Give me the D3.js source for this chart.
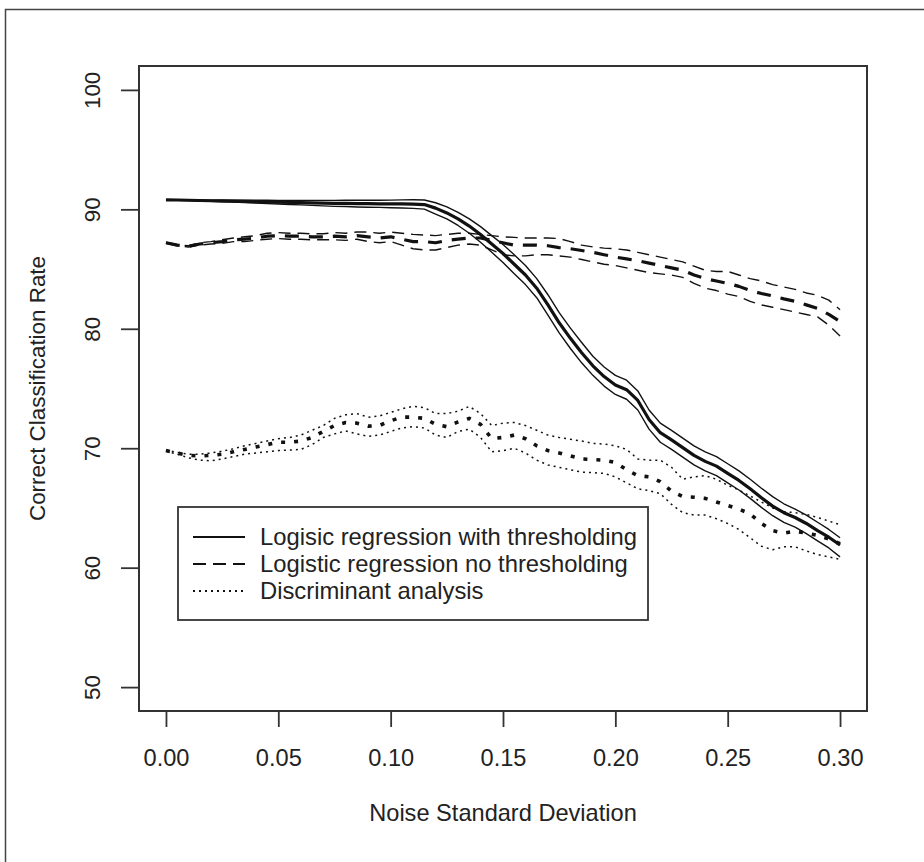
<!DOCTYPE html>
<html>
<head>
<meta charset="utf-8">
<script src="https://cdn.jsdelivr.net/npm/d3@7"></script>
<style>
  html, body { margin: 0; padding: 0; background: #fff; }
  svg { display: block; }
  text { font-family: "Liberation Sans", Arial, Helvetica, sans-serif; fill: #222; }
</style>
</head>
<body>
<svg id="chart" width="924" height="862"></svg>
<script>
// ---------------- DATA ----------------
const noiseSD = [0,0.005,0.01,0.015,0.02,0.025,0.03,0.035,0.04,0.045,
  0.05,0.055,0.06,0.065,0.07,0.075,0.08,0.085,0.09,0.095,
  0.10,0.105,0.11,0.115,0.12,0.125,0.13,0.135,0.14,0.145,
  0.15,0.155,0.16,0.165,0.17,0.175,0.18,0.185,0.19,0.195,
  0.20,0.205,0.21,0.215,0.22,0.225,0.23,0.235,0.24,0.245,
  0.25,0.255,0.26,0.265,0.27,0.275,0.28,0.285,0.29,0.295,0.30];

// Logisic regression with thresholding (solid)
const thrMean = [90.8,90.78,90.76,90.74,90.72,90.7,90.68,90.66,90.64,90.62,
  90.6,90.58,90.56,90.54,90.52,90.5,90.5,90.48,90.47,90.46,
  90.45,90.45,90.44,90.4,90.1,89.7,89.2,88.6,87.9,87.1,
  86.3,85.4,84.5,83.4,82.0,80.5,79.2,78.0,76.9,76.0,
  75.3,74.9,74.0,72.4,71.3,70.7,70.05,69.4,68.9,68.5,
  67.9,67.3,66.6,65.85,65.15,64.6,64.2,63.7,63.1,62.55,61.9];
const thrUpper = [90.8,90.8,90.79,90.78,90.77,90.76,90.76,90.76,90.76,90.76,
  90.75,90.75,90.75,90.75,90.75,90.75,90.76,90.76,90.76,90.76,
  90.77,90.79,90.8,90.78,90.55,90.2,89.75,89.2,88.55,87.8,
  87.05,86.2,85.3,84.2,82.85,81.35,80.05,78.85,77.7,76.8,
  76.1,75.7,74.8,73.2,72.1,71.5,70.85,70.2,69.7,69.3,
  68.7,68.1,67.4,66.65,65.95,65.35,64.9,64.4,63.8,63.2,62.5];
const thrLower = [90.8,90.76,90.73,90.7,90.67,90.64,90.6,90.56,90.52,90.48,
  90.45,90.41,90.37,90.33,90.29,90.25,90.24,90.2,90.18,90.16,
  90.13,90.11,90.08,90.02,89.6,89.2,88.65,88.0,87.25,86.4,
  85.55,84.6,83.7,82.6,81.15,79.65,78.35,77.15,76.1,75.2,
  74.5,74.1,73.2,71.6,70.5,69.9,69.25,68.6,68.1,67.7,
  67.1,66.5,65.8,65.05,64.35,63.8,63.4,62.85,62.25,61.65,60.9];

// Logistic regression no thresholding (dashed)
const noThrMean = [87.2,87.0,86.9,87.1,87.2,87.3,87.45,87.5,87.6,87.75,
  87.8,87.75,87.75,87.7,87.7,87.75,87.7,87.8,87.7,87.6,
  87.7,87.5,87.3,87.3,87.2,87.4,87.5,87.6,87.6,87.4,
  87.2,87.0,87.0,87.0,86.95,86.8,86.7,86.55,86.4,86.2,
  86.0,85.85,85.7,85.5,85.3,85.1,84.9,84.5,84.2,84.0,
  83.8,83.55,83.2,82.95,82.75,82.5,82.3,82.0,81.7,81.2,80.6];
const noThrUpper = [87.25,87.05,86.95,87.2,87.3,87.45,87.6,87.7,87.8,88.0,
  88.05,88.0,88.0,87.95,87.95,88.05,88.0,88.1,88.1,88.0,
  88.1,88.0,87.9,87.85,87.8,87.9,88.0,88.0,87.9,87.8,
  87.7,87.65,87.6,87.6,87.6,87.55,87.3,87.0,86.85,86.75,
  86.7,86.6,86.4,86.2,86.0,85.8,85.6,85.25,84.9,84.8,
  84.8,84.5,84.2,84.0,83.7,83.5,83.3,83.0,82.8,82.4,81.6];
const noThrLower = [87.15,86.95,86.85,87.0,87.1,87.15,87.3,87.3,87.4,87.5,
  87.55,87.5,87.5,87.45,87.45,87.45,87.4,87.5,87.3,87.2,
  87.3,87.0,86.7,86.6,86.6,86.8,87.0,87.1,87.0,86.6,
  86.2,86.1,86.1,86.2,86.2,86.1,86.0,85.8,85.6,85.4,
  85.3,85.1,84.9,84.7,84.6,84.5,84.3,83.8,83.4,83.2,
  82.9,82.7,82.3,82.0,81.8,81.6,81.4,81.2,81.0,80.3,79.4];

// Discriminant analysis (dotted)
const daMean = [69.8,69.6,69.4,69.35,69.4,69.5,69.7,69.9,70.1,70.3,
  70.5,70.5,70.6,70.9,71.4,71.9,72.15,72.1,71.85,71.9,
  72.3,72.6,72.6,72.5,72.0,71.8,72.2,72.5,72.0,70.8,
  70.9,71.1,70.8,70.2,69.8,69.6,69.35,69.1,69.05,69.0,
  68.8,68.2,67.7,67.6,67.2,66.4,65.95,65.9,65.8,65.5,
  65.2,64.9,64.5,63.7,63.1,62.9,63.05,62.9,62.7,62.4,62.0];
const daUpper = [69.85,69.65,69.5,69.5,69.6,69.75,69.95,70.2,70.4,70.6,
  70.8,70.9,71.1,71.5,71.9,72.5,72.8,72.9,72.6,72.7,
  73.0,73.3,73.5,73.4,72.9,72.9,73.1,73.5,72.9,71.9,
  72.1,72.15,71.9,71.5,71.1,70.9,70.75,70.6,70.4,70.35,
  70.2,69.9,69.1,69.0,69.0,68.4,67.4,67.6,67.7,67.4,
  66.9,66.5,66.0,65.5,65.0,64.7,64.6,64.45,64.2,63.9,63.6];
const daLower = [69.75,69.5,69.2,69.0,68.95,69.1,69.3,69.5,69.6,69.7,
  69.8,69.85,69.9,70.3,70.9,71.2,71.45,71.2,71.0,71.1,
  71.4,71.7,71.8,71.7,71.1,70.9,71.4,71.6,70.9,69.7,
  69.8,70.0,69.6,69.0,68.6,68.4,68.2,68.0,67.95,67.9,
  67.6,67.1,66.6,66.45,66.2,65.3,64.6,64.4,64.4,64.1,
  63.7,63.2,62.5,61.8,61.5,61.75,61.75,61.4,61.1,60.9,60.7];

const xTickValues = [0, 0.05, 0.10, 0.15, 0.20, 0.25, 0.30];
const xTickLabels = ["0.00", "0.05", "0.10", "0.15", "0.20", "0.25", "0.30"];
const yTickValues = [50, 60, 70, 80, 90, 100];
const yTickLabels = ["50", "60", "70", "80", "90", "100"];
const legendLabels = ["Logisic regression with thresholding",
                      "Logistic regression no thresholding",
                      "Discriminant analysis"];
const xTitle = "Noise Standard Deviation";
const yTitle = "Correct Classification Rate";

// ---------------- LAYOUT ----------------
const svg = d3.select("#chart");
const L = 139, R = 867, T = 66, B = 711;
const x = d3.scaleLinear().domain([-0.012, 0.312]).range([L, R]);
const y = d3.scaleLinear().domain([48, 102]).range([B, T]);
const axisColor = "#333";
const hFont = "23.6px";   // horizontal text
const vFont = "22.4px";   // rotated text

// outer frame
svg.append("rect").attr("x", 5.5).attr("y", 9.5).attr("width", 940).attr("height", 880)
  .attr("fill", "none").attr("stroke", "#444").attr("stroke-width", 1.5);

// styles
const styles = {
  solid:  { band: { w: 1.4, dash: null },   mean: { w: 3.2, dash: null } },
  dashed: { band: { w: 1.4, dash: "12,7" }, mean: { w: 3.2, dash: "14,10" } },
  dotted: { band: { w: 1.5, dash: "2,4" },  mean: { w: 3.6, dash: "4,9" } }
};

const series = [
  { vals: thrUpper,   st: styles.solid.band },
  { vals: thrLower,   st: styles.solid.band },
  { vals: thrMean,    st: styles.solid.mean },
  { vals: noThrUpper, st: styles.dashed.band },
  { vals: noThrLower, st: styles.dashed.band },
  { vals: noThrMean,  st: styles.dashed.mean },
  { vals: daUpper,    st: styles.dotted.band },
  { vals: daLower,    st: styles.dotted.band },
  { vals: daMean,     st: styles.dotted.mean }
];

const line = d3.line().x((d, i) => x(noiseSD[i])).y(d => y(d)).curve(d3.curveLinear);
const lines = svg.append("g");
series.forEach(s => {
  lines.append("path").datum(s.vals)
    .attr("d", line)
    .attr("fill", "none")
    .attr("stroke", "#111")
    .attr("stroke-width", s.st.w)
    .attr("stroke-dasharray", s.st.dash)
    .attr("stroke-linejoin", "round");
});

// plot box
svg.append("rect").attr("x", L).attr("y", T).attr("width", R - L).attr("height", B - T)
  .attr("fill", "none").attr("stroke", axisColor).attr("stroke-width", 2);

// x axis
const xAxis = d3.axisBottom(x).tickValues(xTickValues)
  .tickFormat((d, i) => xTickLabels[i]).tickSize(16).tickPadding(22).tickSizeOuter(0);
const gx = svg.append("g").attr("transform", `translate(0,${B})`).call(xAxis);
gx.select(".domain").remove();
gx.selectAll("line").attr("stroke", axisColor).attr("stroke-width", 1.8);
gx.selectAll("text").attr("font-size", hFont).attr("fill", "#222")
  .style("font-family", "'Liberation Sans', Arial, sans-serif");

// y axis
const yAxis = d3.axisLeft(y).tickValues(yTickValues)
  .tickFormat((d, i) => yTickLabels[i]).tickSize(18).tickSizeOuter(0);
const gy = svg.append("g").attr("transform", `translate(${L},0)`).call(yAxis);
gy.select(".domain").remove();
gy.selectAll("line").attr("stroke", axisColor).attr("stroke-width", 1.8);
gy.selectAll("text")
  .attr("x", null).attr("dy", "0.35em")
  .attr("text-anchor", "middle")
  .attr("transform", `translate(${92 - L},0) rotate(-90)`)
  .attr("font-size", vFont).attr("fill", "#222")
  .style("font-family", "'Liberation Sans', Arial, sans-serif");

// titles
svg.append("text").attr("x", (L + R) / 2).attr("y", 813).attr("dy", "0.35em")
  .attr("text-anchor", "middle").attr("font-size", hFont).text(xTitle);
svg.append("text").attr("transform", `translate(37,${(T + B) / 2}) rotate(-90)`)
  .attr("dy", "0.35em").attr("text-anchor", "middle").attr("font-size", vFont).text(yTitle);

// legend
const lg = svg.append("g");
lg.append("rect").attr("x", 178).attr("y", 507).attr("width", 470).attr("height", 113)
  .attr("fill", "#fff").attr("stroke", axisColor).attr("stroke-width", 1.8);
const legendStyles = [
  { w: 2, dash: null },
  { w: 2, dash: "13,7" },
  { w: 2, dash: "2,4" }
];
const rowY = [537, 564, 591];
legendLabels.forEach((lab, i) => {
  lg.append("line").attr("x1", 193).attr("x2", 245).attr("y1", rowY[i]).attr("y2", rowY[i])
    .attr("stroke", "#111").attr("stroke-width", legendStyles[i].w)
    .attr("stroke-dasharray", legendStyles[i].dash);
  lg.append("text").attr("x", 260).attr("y", rowY[i]).attr("dy", "0.35em")
    .attr("font-size", "23.8px").text(lab);
});
</script>
</body>
</html>
